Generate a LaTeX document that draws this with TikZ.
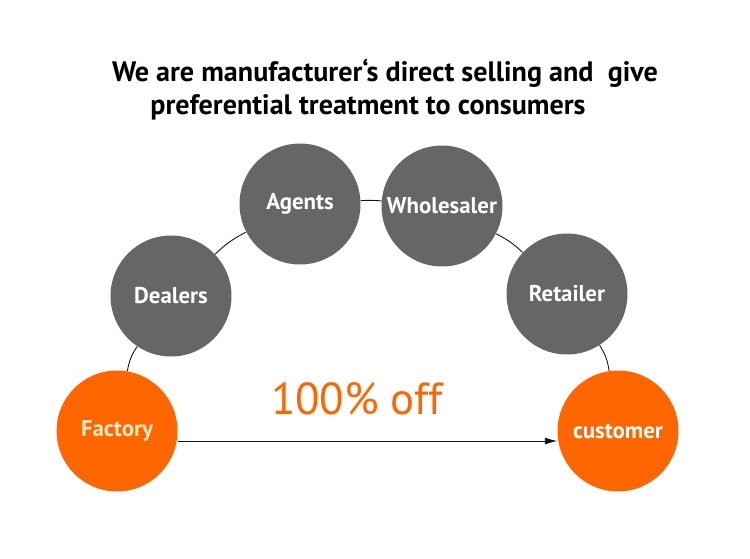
\documentclass[tikz,border=0pt]{standalone}
\usepackage{fontspec}
\setmainfont{PT Sans}
\usetikzlibrary{arrows.meta}
\definecolor{FlowOrange}{HTML}{FF6600}
\definecolor{FlowGray}{HTML}{666666}
\definecolor{FlowInk}{HTML}{111111}
\definecolor{PaleText}{HTML}{F8EAC0}

\begin{document}
\begin{tikzpicture}[x=0.02cm, y=-0.02cm,
  stage/.style={circle, fill=FlowGray, minimum size=2.42cm, inner sep=0pt,
                font=\bfseries\fontsize{13}{15}\selectfont\color{white}},
  endpt/.style={stage, fill=FlowOrange},
  link/.style={draw=FlowInk, line width=0.5pt},
  title/.style={font=\bfseries\fontsize{16}{19}\selectfont\color{black}}]
  \useasboundingbox (0,0) rectangle (750,558);
  \node[title, anchor=base] (t1) at (385,81) {We are manufacturer‘s direct selling and\ \ give};
  \node[title, anchor=base] (t2) at (368,114) {preferential treatment to consumers};
  \node[endpt] (factory) at (117,431) {\color{PaleText}Factory};
  \node[stage] (dealers) at (171,296) {Dealers};
  \node[stage] (agents) at (300,204) {Agents};
  \node[stage] (wholesaler) at (442,206) {Wholesaler};
  \node[stage] (retailer) at (567,294) {Retailer};
  \node[endpt] (customer) at (618,431) {customer};
  \node[font=\fontsize{25.5}{30}\selectfont, text=FlowOrange] (off) at (357,399) {100\% off};
  \draw[link] (factory) to[bend left=12] (dealers);
  \draw[link] (dealers) to[bend left=8] (agents);
  \draw[link] (agents) to[bend left=4] (wholesaler);
  \draw[link] (wholesaler) to[bend left=8] (retailer);
  \draw[link] (retailer) to[bend left=12] (customer);
  \draw[link, -{Latex[length=7pt, width=4pt]}] (factory.east |- 0,441) -- (customer.west |- 0,441);
\end{tikzpicture}
\end{document}
